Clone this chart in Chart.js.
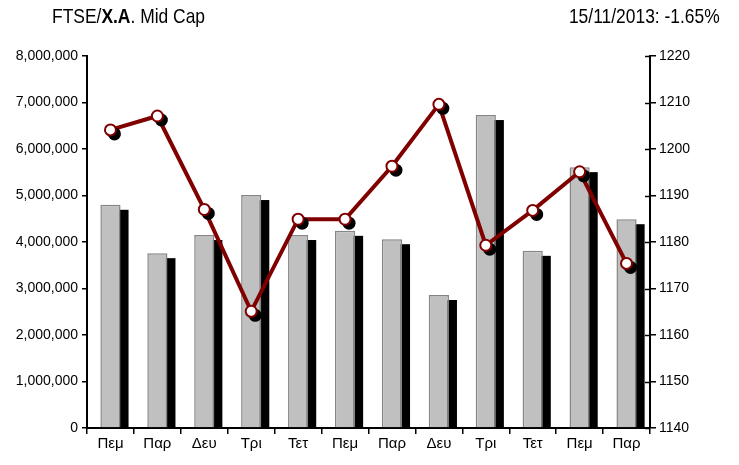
<!DOCTYPE html>
<html lang="el">
<head>
  <meta charset="UTF-8">
  <title>FTSE/X.A. Mid Cap</title>
  <script src="https://cdn.jsdelivr.net/npm/chart.js"></script>
  <style>
    body { margin: 0; background: #fff; font-family: "Liberation Sans", Arial, sans-serif; }
    .wrap { position: relative; width: 739px; height: 465px; }
    .title { position: absolute; top: 5px; font-size: 21px; line-height: 21px; color: #000; white-space: nowrap; }
    .left { left: 52px; transform: scaleX(0.83); transform-origin: left top; }
    .right { right: 19px; transform: scaleX(0.83); transform-origin: right top; }
    canvas { position: absolute; left: 0; top: 0; }
  </style>
</head>
<body>
  <div class="wrap">
    <canvas id="chart" width="739" height="465"></canvas>
    <div class="title left">FTSE/<b>X.A</b>. Mid Cap</div>
    <div class="title right">15/11/2013: -1.65%</div>
  </div>

  <script>
    const days = ['Πεμ', 'Παρ', 'Δευ', 'Τρι', 'Τετ', 'Πεμ', 'Παρ', 'Δευ', 'Τρι', 'Τετ', 'Πεμ', 'Παρ'];
    const volume = [4800000, 3760000, 4150000, 5010000, 4150000, 4240000, 4060000, 2860000, 6730000, 3810000, 5610000, 4490000];
    const index = [1204.1, 1207.1, 1187.0, 1165.1, 1184.9, 1184.9, 1196.3, 1209.6, 1179.3, 1186.8, 1195.1, 1175.4];
    const volumeTicks = [0, 8000000, 1000000];
    const indexTicks = [1140, 1220, 10];

    const font = { family: '"Liberation Sans", Arial, sans-serif', size: 14 };

    // black drop shadows for bars and markers, drawn from the elements' own positions
    const shadows = {
      id: 'shadows',
      beforeDatasetDraw(chart, args) {
        const ctx = chart.ctx;
        const meta = args.meta;
        if (args.index === 0) {
          ctx.save();
          ctx.fillStyle = '#000';
          meta.data.forEach(bar => {
            const w = bar.width;
            const top = bar.y + 5;
            ctx.fillRect(bar.x - w / 2 + 8, top, w, bar.base - top);
          });
          ctx.restore();
        }
        if (args.index === 2) {
          ctx.save();
          ctx.fillStyle = '#000';
          meta.data.forEach(pt => {
            ctx.beginPath();
            ctx.arc(pt.x + 4, pt.y + 4, 6.5, 0, Math.PI * 2);
            ctx.fill();
          });
          ctx.restore();
        }
      },
      afterDraw(chart) {
        // right axis tick marks cross the axis line
        const s = chart.scales.y1;
        const ctx = chart.ctx;
        ctx.save();
        ctx.strokeStyle = '#000';
        ctx.lineWidth = 1.5;
        s.ticks.forEach(t => {
          const y = Math.round(s.getPixelForValue(t.value)) + 0.5;
          ctx.beginPath();
          ctx.moveTo(s.left - 5, y);
          ctx.lineTo(s.left, y);
          ctx.stroke();
        });
        ctx.restore();
      }
    };

    new Chart(document.getElementById('chart'), {
      data: {
        labels: days,
        datasets: [
          {
            type: 'bar',
            data: volume,
            yAxisID: 'y',
            backgroundColor: '#C0C0C0',
            borderColor: '#858585',
            borderWidth: 1.5,
            categoryPercentage: 1,
            barPercentage: 0.43,
            order: 3
          },
          {
            type: 'line',
            data: index,
            yAxisID: 'y1',
            borderColor: '#800000',
            borderWidth: 4,
            pointRadius: 0,
            tension: 0,
            order: 2
          },
          {
            type: 'line',
            data: index,
            yAxisID: 'y1',
            showLine: false,
            pointRadius: 5.5,
            pointBackgroundColor: '#fff',
            pointBorderColor: '#800000',
            pointBorderWidth: 2,
            order: 1
          }
        ]
      },
      options: {
        responsive: false,
        animation: false,
        layout: { padding: { top: 56, bottom: 0, left: 0, right: 0 } },
        plugins: { legend: { display: false }, tooltip: { enabled: false } },
        scales: {
          x: {
            offset: true,
            grid: { display: true, drawOnChartArea: false, offset: true, color: '#000', tickLength: 6, lineWidth: 1.5 },
            border: { display: true, color: '#000', width: 2 },
            ticks: { color: '#000', font: { ...font, size: 15 }, padding: 1, maxRotation: 0 },
            afterFit: s => { s.height = 37; }
          },
          y: {
            position: 'left',
            min: volumeTicks[0], max: volumeTicks[1],
            grid: { display: true, drawOnChartArea: false, color: '#000', tickLength: 5, lineWidth: 1.5 },
            border: { display: true, color: '#000', width: 2 },
            ticks: {
              stepSize: volumeTicks[2], color: '#000', font, padding: 4,
              callback: v => v.toLocaleString('en-US')
            },
            afterFit: s => { s.width = 87; }
          },
          y1: {
            position: 'right',
            min: indexTicks[0], max: indexTicks[1],
            grid: { display: true, drawOnChartArea: false, color: '#000', tickLength: 6, lineWidth: 1.5 },
            border: { display: true, color: '#000', width: 2 },
            ticks: { stepSize: indexTicks[2], color: '#000', font, padding: 3, callback: v => String(v) },
            afterFit: s => { s.width = 89; }
          }
        }
      },
      plugins: [shadows]
    });
  </script>
</body>
</html>
